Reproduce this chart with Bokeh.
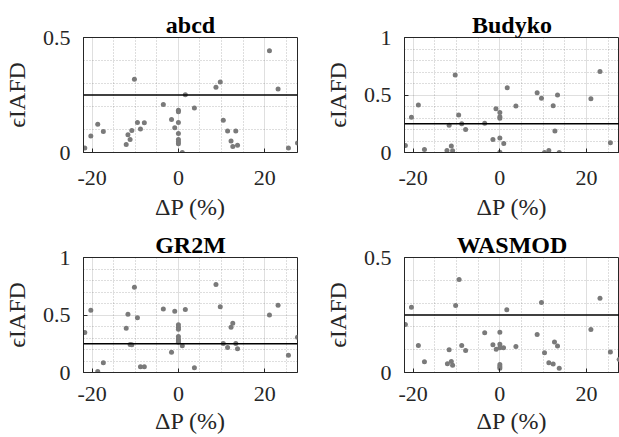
from bokeh.plotting import figure
from bokeh.models import Range1d, FixedTicker, Span, CustomJSTickFormatter
from bokeh.layouts import column, row
from bokeh.embed import file_html
from bokeh.resources import INLINE

# ---- data ----
titles = ["abcd", "Budyko", "GR2M", "WASMOD"]
x_label = "\u0394P (%)"
y_label = "\u03f5IAFD"
threshold = 0.25
x_limits = [-22, 27.6]
x_ticks = [-20, 0, 20]
x_minor = [-15, -10, -5, 5, 10, 15, 25]
y_limits_abcd = [0, 0.5]
y_limits_budyko = [0, 1]
y_limits_gr2m = [0, 1]
y_limits_wasmod = [0, 0.5]
y_ticks_half = [0, 0.5]
y_minor_half = [0.1, 0.2, 0.3, 0.4]
y_ticks_one = [0, 0.5, 1]
y_minor_one = [0.1, 0.2, 0.3, 0.4, 0.6, 0.7, 0.8, 0.9]

dp_abcd = [-21.7, -20.3, -18.7, -17.4, -10.2, -12.1, -11.7, -11.2, -10.8, -9.5, -8.8, -7.9,
           -3.5, -1.6, -0.85, 0, 0, 0, 0, 0, 0, 0, 0.9, 1.6, 3.7, 8.7, 9.7, 10.4, 11.4, 13.3,
           12.2, 12.6, 13.7, 21.1, 23.1, 25.5, 27.6]
e_abcd = [0.020, 0.072, 0.123, 0.091, 0.319, 0.035, 0.077, 0.056, 0.096, 0.130, 0.102, 0.129,
          0.209, 0.143, 0.108, 0.184, 0.177, 0.130, 0.083, 0.056, 0.047, 0.038, 0.0, 0.251, 0.193,
          0.284, 0.306, 0.140, 0.094, 0.094, 0.050, 0.026, 0.031, 0.442, 0.276, 0.020, 0.041]

dp_budyko = [-21.8, -20.4, -18.8, -17.4, -10.3, -12.2, -11.7, -11.2, -10.9, -9.5, -8.8, -7.9,
             -3.5, -1.6, -0.9, 0, 0, 0, 0, 0, 0.9, 1.7, 3.7, 8.6, 9.6, 10.3, 11.3, 12.3, 13.3,
             12.7, 13.7, 21.0, 23.1, 25.5]
e_budyko = [0.061, 0.307, 0.412, 0.026, 0.673, 0.018, 0.237, 0.056, 0.015, 0.327, 0.249, 0.199,
            0.254, 0.114, 0.380, 0.348, 0.310, 0.298, 0.126, 0.003, 0.079, 0.564, 0.404, 0.520,
            0.471, 0.0, 0.018, 0.406, 0.500, 0.187, 0.0, 0.468, 0.705, 0.085]

dp_gr2m = [-21.7, -20.3, -18.7, -17.4, -10.2, -12.1, -11.7, -11.2, -10.8, -9.5, -8.8, -7.9,
           -3.5, -1.6, -0.85, 0, 0, 0, 0, 0, 0, 0, 0.9, 1.6, 3.7, 8.7, 9.7, 10.4, 11.4, 13.3,
           12.2, 12.6, 13.7, 21.1, 23.1, 25.5, 27.6]
e_gr2m = [0.347, 0.541, 0.009, 0.085, 0.741, 0.385, 0.506, 0.244, 0.241, 0.476, 0.050, 0.050,
          0.553, 0.176, 0.532, 0.415, 0.394, 0.376, 0.312, 0.291, 0.276, 0.262, 0.232, 0.547,
          0.041, 0.765, 0.571, 0.253, 0.218, 0.253, 0.394, 0.429, 0.206, 0.500, 0.585, 0.150,
          0.306]

dp_wasmod = [-21.8, -20.4, -18.8, -17.4, -9.4, -10.2, -12.1, -11.7, -11.2, -10.9, -8.8, -7.9,
             -3.5, -1.6, -0.85, 0, 0, 0, 0, 0, 0, 0.85, 1.6, 3.7, 8.6, 9.6, 10.3, 11.3, 12.3,
             12.6, 13.3, 13.7, 21.0, 23.1, 25.5, 27.5]
e_wasmod = [0.209, 0.284, 0.117, 0.047, 0.404, 0.291, 0.038, 0.099, 0.048, 0.031, 0.117, 0.096,
            0.173, 0.121, 0.101, 0.175, 0.123, 0.108, 0.035, 0.026, 0.019, 0.108, 0.273, 0.113,
            0.165, 0.304, 0.086, 0.042, 0.037, 0.133, 0.115, 0.019, 0.187, 0.323, 0.089, 0.057]

AX = "#262626"
SERIF = "Liberation Serif"


def panel(title, xs, ys, ylim, yticks, yminor, width, height,
          b_left, b_right, b_top, b_bottom, x_std, x_lab_std):
    p = figure(width=width, height=height, output_backend="svg", toolbar_location=None,
               x_range=Range1d(*x_limits), y_range=Range1d(*ylim),
               min_border_left=b_left, min_border_right=b_right,
               min_border_top=b_top, min_border_bottom=b_bottom,
               background_fill_color="white", border_fill_color="white")
    p.title.text = title
    p.title.align = "center"
    p.title.text_font = SERIF
    p.title.text_font_size = "24px"
    p.title.text_font_style = "bold"
    p.title.text_color = "black"
    p.title.standoff = 0

    p.outline_line_color = AX
    p.outline_line_width = 1

    p.xaxis.ticker = FixedTicker(ticks=x_ticks, minor_ticks=x_minor)
    p.yaxis.ticker = FixedTicker(ticks=yticks, minor_ticks=yminor)
    fmt = "return tick.toString();"
    p.xaxis.formatter = CustomJSTickFormatter(code=fmt)
    p.yaxis.formatter = CustomJSTickFormatter(code=fmt)

    for ax in (p.xaxis[0], p.yaxis[0]):
        ax.axis_line_color = AX
        ax.axis_line_width = 1
        ax.major_tick_in = 4
        ax.major_tick_out = 0
        ax.major_tick_line_color = AX
        ax.minor_tick_line_color = None
        ax.major_label_text_font = SERIF
        ax.major_label_text_font_size = "22px"
        ax.major_label_text_color = AX
        ax.axis_label_text_font = SERIF
        ax.axis_label_text_font_size = "24px"
        ax.axis_label_text_font_style = "normal"
        ax.axis_label_text_color = AX

    p.xaxis.axis_label = x_label
    p.yaxis.axis_label = y_label
    p.xaxis.major_label_standoff = x_std
    p.xaxis.axis_label_standoff = x_lab_std
    p.yaxis.major_label_standoff = 9
    p.yaxis.axis_label_standoff = 10

    for g in (p.xgrid[0], p.ygrid[0]):
        g.grid_line_color = AX
        g.grid_line_alpha = 0.15
        g.grid_line_width = 1
        g.minor_grid_line_color = AX
        g.minor_grid_line_alpha = 0.3
        g.minor_grid_line_dash = "1 2"
        g.minor_grid_line_width = 1

    p.scatter(xs, ys, size=5, color="#7a7a7a", line_color=None)
    p.add_layout(Span(location=threshold, dimension="width", line_color="black",
                      line_width=1.5))
    return p


# top row: frames at y 37..152 ; bottom row: frames at y 257..372
p1 = panel(titles[0], dp_abcd, e_abcd, y_limits_abcd, y_ticks_half, y_minor_half,
           307, 228, 82, 10, 37, 76, 14, 6)
p2 = panel(titles[1], dp_budyko, e_budyko, y_limits_budyko, y_ticks_one, y_minor_one,
           312, 228, 97, 0, 37, 76, 14, 6)
p3 = panel(titles[2], dp_gr2m, e_gr2m, y_limits_gr2m, y_ticks_one, y_minor_one,
           307, 208, 82, 10, 29, 64, 10, 4)
p4 = panel(titles[3], dp_wasmod, e_wasmod, y_limits_wasmod, y_ticks_half, y_minor_half,
           312, 208, 97, 0, 29, 64, 10, 4)

layout = column(row(p1, p2), row(p3, p4))
open("out.html", "w").write(file_html(layout, INLINE))
